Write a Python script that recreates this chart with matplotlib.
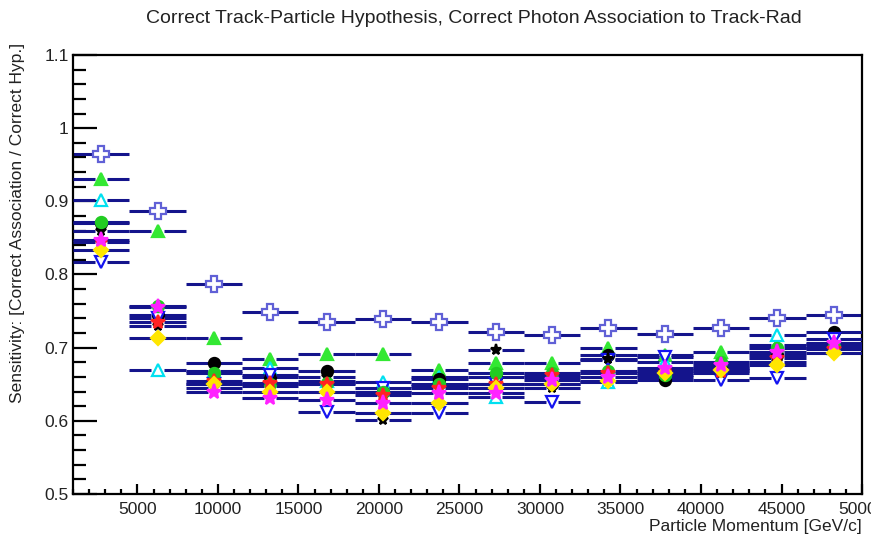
import numpy as np
import matplotlib.pyplot as plt
from matplotlib.ticker import MultipleLocator

plt.rcParams['font.family'] = ['Liberation Sans', 'DejaVu Sans']

# momentum binning: 14 bins of 3500 GeV/c from 1000 to 50000
edges = np.linspace(1000, 50000, 15)
centres = 0.5 * (edges[:-1] + edges[1:])
half_width = 0.5 * (edges[1] - edges[0])

# sensitivity per bin for each sample
open_cross = [0.965, 0.887, 0.787, 0.749, 0.735, 0.739, 0.735, 0.721, 0.717, 0.727, 0.718, 0.727, 0.741, 0.744]
green_tri = [0.930, 0.859, 0.713, 0.684, 0.691, 0.691, 0.669, 0.679, 0.679, 0.700, 0.690, 0.694, 0.704, 0.700]
cyan_tri = [0.902, 0.670, 0.668, 0.672, 0.655, 0.653, 0.660, 0.632, 0.660, 0.653, 0.680, 0.672, 0.717, 0.700]
black_circ = [0.870, 0.745, 0.679, 0.660, 0.668, 0.640, 0.657, 0.660, 0.650, 0.690, 0.656, 0.672, 0.690, 0.722]
blue_tri = [0.817, 0.740, 0.650, 0.662, 0.612, 0.645, 0.611, 0.650, 0.626, 0.683, 0.687, 0.656, 0.659, 0.712]
black_star = [0.860, 0.730, 0.645, 0.648, 0.660, 0.601, 0.648, 0.697, 0.645, 0.685, 0.660, 0.665, 0.680, 0.705]
green_circ = [0.872, 0.757, 0.665, 0.650, 0.652, 0.640, 0.650, 0.665, 0.665, 0.668, 0.662, 0.680, 0.700, 0.702]
red_star = [0.845, 0.735, 0.655, 0.652, 0.650, 0.635, 0.645, 0.650, 0.662, 0.665, 0.668, 0.668, 0.686, 0.698]
yellow_dia = [0.834, 0.713, 0.650, 0.640, 0.640, 0.611, 0.625, 0.645, 0.650, 0.655, 0.665, 0.670, 0.676, 0.693]
magenta_star = [0.847, 0.755, 0.640, 0.631, 0.628, 0.624, 0.638, 0.638, 0.656, 0.660, 0.672, 0.676, 0.694, 0.706]

series = [open_cross, green_tri, cyan_tri, black_circ, blue_tri,
          black_star, green_circ, red_star, yellow_dia, magenta_star]
# marker, face colour, edge colour, size
styles = [
    ('P', 'white', '#6060d6', 11),
    ('^', '#33e833', '#33e833', 8),
    ('^', 'white', '#00e0f0', 9),
    ('o', 'black', 'black', 8),
    ('v', 'white', '#1414f0', 9),
    ('*', 'black', 'black', 8),
    ('o', '#22cc22', '#22cc22', 8),
    ('*', '#ff2222', '#ff2222', 10),
    ('D', '#ffe600', '#ffe600', 7),
    ('*', '#ff22ff', '#ff22ff', 11),
]
bar_colour = '#14148c'
gap = 380

fig = plt.figure(figsize=(8.71, 5.36), dpi=100)
ax = fig.add_axes([0.0838, 0.0784, 0.9059, 0.819])

z = 2
for vals, (mk, fc, ec, ms) in zip(series, styles):
    vals = np.array(vals)
    ax.hlines(vals, centres - half_width, centres - gap, color=bar_colour, lw=2.2, zorder=z)
    ax.hlines(vals, centres + gap, centres + half_width, color=bar_colour, lw=2.2, zorder=z)
    ax.plot(centres, vals, ls='none', marker=mk, mfc=fc, mec=ec, ms=ms, mew=1.6, zorder=z + 1)
    z += 2

ax.set_xlim(1000, 50000)
ax.set_ylim(0.5, 1.1)
ax.xaxis.set_major_locator(MultipleLocator(5000))
ax.xaxis.set_minor_locator(MultipleLocator(1000))
ax.yaxis.set_major_locator(MultipleLocator(0.1))
ax.yaxis.set_minor_locator(MultipleLocator(0.02))
ax.yaxis.set_major_formatter(lambda v, p: f"{v:g}")
ax.tick_params(axis='both', which='both', direction='in', top=False, right=False,
               labelsize=12.5, width=1.6, labelcolor='#222222')
ax.tick_params(axis='y', which='major', length=17, pad=3)
ax.tick_params(axis='y', which='minor', length=9)
ax.tick_params(axis='x', which='major', length=7, pad=6)
ax.tick_params(axis='x', which='minor', length=3.5)
for s in ax.spines.values():
    s.set_linewidth(1.6)

ax.set_xlabel("Particle Momentum [GeV/c]", loc='right', fontsize=12.5, labelpad=1, color='#222222')
ax.set_ylabel("Sensitivity: [Correct Association / Correct Hyp.]", fontsize=12.5, color='#222222',
              ha='right')
ax.yaxis.set_label_coords(-0.061, 1.027)
fig.text(0.544, 0.966, "Correct Track-Particle Hypothesis, Correct Photon Association to Track-Rad",
         ha='center', va='center', fontsize=14, color='#222222')

fig.savefig("out.png", dpi=100)
